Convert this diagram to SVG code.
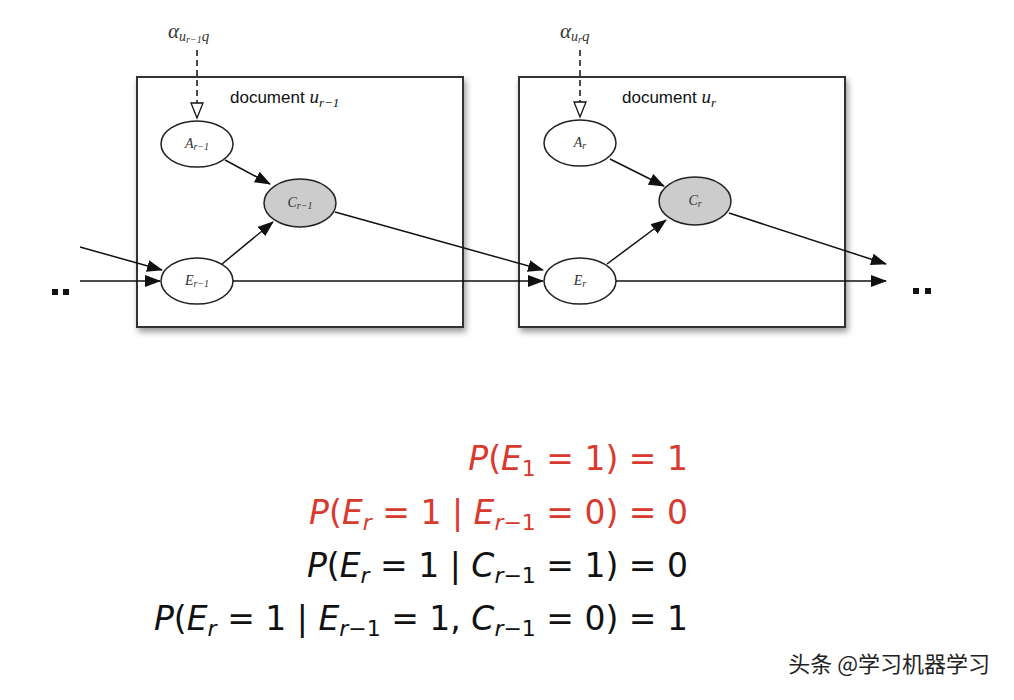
<svg xmlns="http://www.w3.org/2000/svg" width="1014" height="700" viewBox="0 0 1014 700">
<style>
.box{fill:#fff;stroke:#333;stroke-width:2}
.nd{fill:#fff;stroke:#222;stroke-width:1.5}
.sh{fill:#ccc;stroke:#222;stroke-width:1.5}
.ln{stroke:#111;stroke-width:1.5;fill:none}
.lab{font-family:"Liberation Serif",serif;font-style:italic;font-size:14px;fill:#333}
.al{font-family:"Liberation Serif",serif;font-style:italic;font-size:21px;fill:#333}
.doc{font-family:"Liberation Sans",Arial,sans-serif;font-size:17px;fill:#111}
.eq{font-family:"DejaVu Sans",sans-serif;font-size:33px;text-anchor:end}
</style>
<defs>
<marker id="ar" markerWidth="16" markerHeight="12" refX="15" refY="6" orient="auto" markerUnits="userSpaceOnUse"><path d="M0,0L16,6L0,12z" fill="#111"/></marker>
<filter id="ds" x="-5%" y="-5%" width="115%" height="115%"><feDropShadow dx="2" dy="4" stdDeviation="3" flood-opacity="0.4"/></filter>
</defs>
<rect width="1014" height="700" fill="#fff"/>
<g id="doc1">
<rect class="box" x="137" y="77" width="326" height="250" filter="url(#ds)"/>
<text class="doc" x="230" y="103">document <tspan font-family="Liberation Serif" font-style="italic" font-size="19">u</tspan><tspan font-family="Liberation Serif" font-style="italic" font-size="13" dy="4">r−1</tspan></text>
</g>
<g id="doc2">
<rect class="box" x="519" y="77" width="326" height="250" filter="url(#ds)"/>
<text class="doc" x="622" y="103">document <tspan font-family="Liberation Serif" font-style="italic" font-size="19">u</tspan><tspan font-family="Liberation Serif" font-style="italic" font-size="13" dy="4">r</tspan></text>
</g>
<g id="alpha1"><text class="al" x="168" y="38">α<tspan font-size="14" dy="3">u<tspan font-size="10" dy="2">r−1</tspan></tspan><tspan font-size="15" dy="-2">q</tspan></text></g>
<g id="alpha2"><text class="al" x="560" y="38">α<tspan font-size="14" dy="3">u<tspan font-size="10" dy="2">r</tspan></tspan><tspan font-size="15" dy="-2">q</tspan></text></g>
<g id="A1"><ellipse class="nd" cx="197" cy="144" rx="36" ry="23"/><text class="lab" x="197" y="148" text-anchor="middle">A<tspan font-size="10" dy="2">r−1</tspan></text></g>
<g id="C1"><ellipse class="sh" cx="300" cy="203" rx="36" ry="24"/><text class="lab" x="300" y="207" text-anchor="middle">C<tspan font-size="10" dy="2">r−1</tspan></text></g>
<g id="E1"><ellipse class="nd" cx="197" cy="281" rx="36" ry="23"/><text class="lab" x="197" y="285" text-anchor="middle">E<tspan font-size="10" dy="2">r−1</tspan></text></g>
<g id="A2"><ellipse class="nd" cx="580" cy="143" rx="36" ry="23"/><text class="lab" x="580" y="147" text-anchor="middle">A<tspan font-size="10" dy="2">r</tspan></text></g>
<g id="C2"><ellipse class="sh" cx="695" cy="201" rx="36" ry="24"/><text class="lab" x="695" y="205" text-anchor="middle">C<tspan font-size="10" dy="2">r</tspan></text></g>
<g id="E2"><ellipse class="nd" cx="580" cy="281" rx="36" ry="23"/><text class="lab" x="580" y="285" text-anchor="middle">E<tspan font-size="10" dy="2">r</tspan></text></g>
<g id="connectors">
<line class="ln" x1="197" y1="50" x2="197" y2="103" stroke-dasharray="6,4"/>
<path d="M191,103L203,103L197,118z" fill="#fff" stroke="#111" stroke-width="1.3"/>
<line class="ln" x1="580" y1="50" x2="580" y2="102" stroke-dasharray="6,4"/>
<path d="M574,102L586,102L580,117z" fill="#fff" stroke="#111" stroke-width="1.3"/>
<line class="ln" x1="225" y1="160" x2="270" y2="184" marker-end="url(#ar)"/>
<line class="ln" x1="222" y1="264" x2="273" y2="222" marker-end="url(#ar)"/>
<line class="ln" x1="80" y1="247" x2="162" y2="270" marker-end="url(#ar)"/>
<line class="ln" x1="80" y1="281" x2="160" y2="281" marker-end="url(#ar)"/>
<line class="ln" x1="335" y1="212" x2="543" y2="270" marker-end="url(#ar)"/>
<line class="ln" x1="233" y1="281" x2="543" y2="281" marker-end="url(#ar)"/>
<line class="ln" x1="610" y1="159" x2="664" y2="186" marker-end="url(#ar)"/>
<line class="ln" x1="607" y1="264" x2="666" y2="220" marker-end="url(#ar)"/>
<line class="ln" x1="729" y1="213" x2="886" y2="264" marker-end="url(#ar)"/>
<line class="ln" x1="616" y1="281" x2="886" y2="281" marker-end="url(#ar)"/>
</g>
<g id="dots" fill="#111">
<rect x="52" y="289" width="6" height="6"/><rect x="63" y="289" width="6" height="6"/>
<rect x="913" y="288" width="6" height="6"/><rect x="925" y="288" width="6" height="6"/>
</g>
<g id="equations">
<text class="eq" x="688" y="470" fill="#d93a2f"><tspan font-style="italic">P</tspan>(<tspan font-style="italic">E</tspan><tspan font-size="22" dy="6">1</tspan><tspan dy="-6"> = 1) = 1</tspan></text>
<text class="eq" x="688" y="524" fill="#d93a2f"><tspan font-style="italic">P</tspan>(<tspan font-style="italic">E<tspan font-size="22" dy="6">r</tspan></tspan><tspan dy="-6"> = 1 | </tspan><tspan font-style="italic">E<tspan font-size="22" dy="6">r</tspan></tspan><tspan font-size="22">−1</tspan><tspan dy="-6"> = 0) = 0</tspan></text>
<text class="eq" x="688" y="577" fill="#111"><tspan font-style="italic">P</tspan>(<tspan font-style="italic">E<tspan font-size="22" dy="6">r</tspan></tspan><tspan dy="-6"> = 1 | </tspan><tspan font-style="italic">C<tspan font-size="22" dy="6">r</tspan></tspan><tspan font-size="22">−1</tspan><tspan dy="-6"> = 1) = 0</tspan></text>
<text class="eq" x="688" y="630" fill="#111"><tspan font-style="italic">P</tspan>(<tspan font-style="italic">E<tspan font-size="22" dy="6">r</tspan></tspan><tspan dy="-6"> = 1 | </tspan><tspan font-style="italic">E<tspan font-size="22" dy="6">r</tspan></tspan><tspan font-size="22">−1</tspan><tspan dy="-6"> = 1, </tspan><tspan font-style="italic">C<tspan font-size="22" dy="6">r</tspan></tspan><tspan font-size="22">−1</tspan><tspan dy="-6"> = 0) = 1</tspan></text>
</g>
<g id="watermark"><text x="990" y="672" text-anchor="end" font-family="Noto Sans CJK SC,sans-serif" font-size="22" fill="#222">头条 @学习机器学习</text></g>
</svg>
